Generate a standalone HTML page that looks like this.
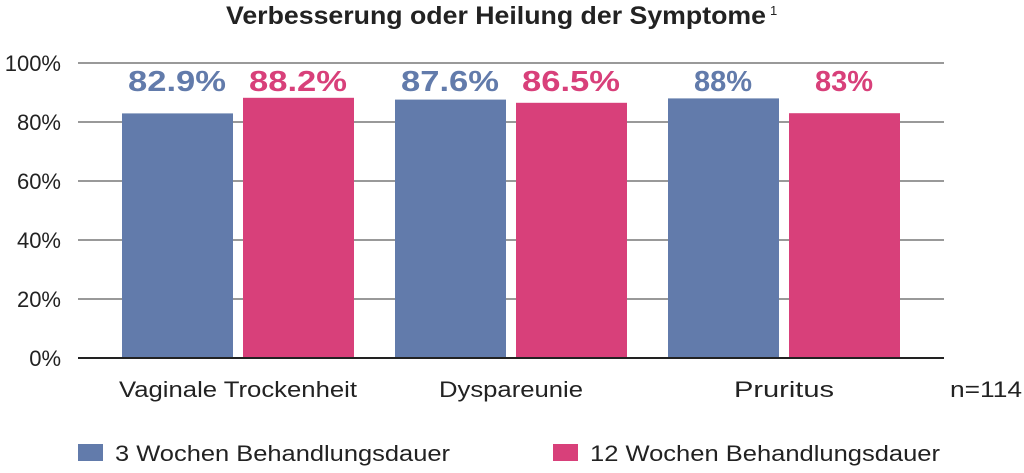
<!DOCTYPE html>
<html><head><meta charset="utf-8"><style>body{margin:0;background:#fff}</style></head><body>
<svg width="1024" height="468" xmlns="http://www.w3.org/2000/svg" font-family="Liberation Sans, sans-serif">
<text x="226" y="24" font-size="25" font-weight="bold" fill="#222" textLength="540" lengthAdjust="spacingAndGlyphs">Verbesserung oder Heilung der Symptome</text><text x="770" y="15" font-size="13" fill="#222">1</text>
<g stroke="#999" stroke-width="2">
<line x1="78" y1="63" x2="944" y2="63"/><line x1="78" y1="122" x2="944" y2="122"/><line x1="78" y1="181" x2="944" y2="181"/><line x1="78" y1="240" x2="944" y2="240"/><line x1="78" y1="299" x2="944" y2="299"/></g>
<g font-size="22" fill="#222" text-anchor="end">
<text x="61" y="71">100%</text><text x="61" y="130">80%</text><text x="61" y="189">60%</text><text x="61" y="248">40%</text><text x="61" y="307">20%</text><text x="61" y="366">0%</text></g>
<g fill="#627bab"><rect x="122" y="113.4" width="111" height="244.6"/><rect x="395" y="99.6" width="111" height="258.4"/><rect x="668" y="98.4" width="111" height="259.6"/></g>
<g fill="#d8407a"><rect x="243" y="97.8" width="111" height="260.2"/><rect x="516" y="102.8" width="111" height="255.2"/><rect x="789" y="113.2" width="111" height="244.8"/></g>
<line x1="78" y1="358" x2="944" y2="358" stroke="#222" stroke-width="2"/>
<g font-size="29" font-weight="bold" text-anchor="middle">
<text x="177" y="91" fill="#627bab" textLength="98" lengthAdjust="spacingAndGlyphs">82.9%</text><text x="298" y="91" fill="#d8407a" textLength="98" lengthAdjust="spacingAndGlyphs">88.2%</text>
<text x="450" y="91" fill="#627bab" textLength="98" lengthAdjust="spacingAndGlyphs">87.6%</text><text x="571" y="91" fill="#d8407a" textLength="98" lengthAdjust="spacingAndGlyphs">86.5%</text>
<text x="723" y="91" fill="#627bab">88%</text><text x="844" y="91" fill="#d8407a">83%</text></g>
<g font-size="22" fill="#222" text-anchor="middle">
<text x="238" y="397" textLength="238" lengthAdjust="spacingAndGlyphs">Vaginale Trockenheit</text><text x="511" y="397" textLength="144" lengthAdjust="spacingAndGlyphs">Dyspareunie</text><text x="784" y="397" textLength="100" lengthAdjust="spacingAndGlyphs">Pruritus</text>
<text x="986" y="397" textLength="72" lengthAdjust="spacingAndGlyphs">n=114</text></g>
<rect x="78" y="444" width="25" height="17" fill="#627bab"/><text x="115" y="461" font-size="22" fill="#222" textLength="335" lengthAdjust="spacingAndGlyphs">3 Wochen Behandlungsdauer</text>
<rect x="553" y="444" width="25" height="17" fill="#d8407a"/><text x="590" y="461" font-size="22" fill="#222" textLength="350" lengthAdjust="spacingAndGlyphs">12 Wochen Behandlungsdauer</text>
</svg></body></html>
